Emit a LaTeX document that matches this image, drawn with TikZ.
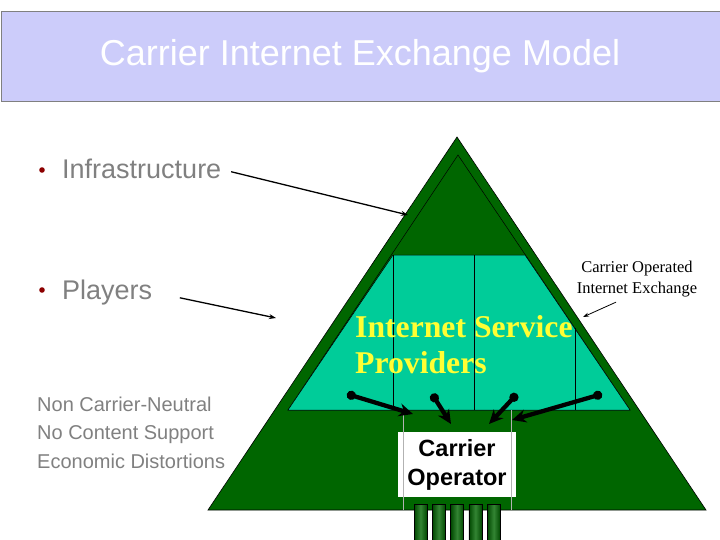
\documentclass[tikz,border=0pt]{standalone}
\usepackage{fontspec}
\setmainfont{Liberation Serif}
\setsansfont{Liberation Sans}
\usepackage{tikz}
\usetikzlibrary{positioning, arrows.meta}

\definecolor{basegreen}{RGB}{0,102,0}
\definecolor{ispgreen}{RGB}{0,204,153}
\definecolor{titleblue}{RGB}{204,204,250}
\definecolor{ispyellow}{RGB}{255,255,51}
\definecolor{bulletred}{RGB}{140,0,0}
\definecolor{textgrey}{RGB}{128,128,128}

\begin{document}
\begin{tikzpicture}[x=1pt, y=-1pt,
    pointer/.style = {-{Stealth[length=7pt, width=5pt]}, line width=1.3pt},
    thinpointer/.style = {-{Stealth[length=6pt, width=4pt]}, line width=0.8pt},
    isparrow/.style = {{Circle[length=9pt]}-{Stealth[length=14pt, width=13pt]}, line width=4.3pt},
    bullet/.style = {font=\sffamily\fontsize{27}{30}\selectfont, text=textgrey, anchor=base west, inner sep=0pt},
    issue/.style = {font=\sffamily\fontsize{20}{24}\selectfont, text=textgrey, anchor=base west, inner sep=0pt},
    ispname/.style = {anchor=base west, inner sep=0pt, text=ispyellow, font=\bfseries\fontsize{31.7}{36}\selectfont},
    port/.style = {draw=black, line width=0.6pt, left color=basegreen!70!black, right color=basegreen!70!black, middle color=basegreen!80!white}
  ]
  \useasboundingbox (0,0) rectangle (720,540);

  % title bar
  \draw[fill=titleblue, draw=gray] (1,11) rectangle (730,101);
  \node (title) at (360,56) [text=white, font=\sffamily\fontsize{36}{40}\selectfont] {Carrier Internet Exchange Model};

  % pyramid
  \draw[fill=basegreen, line width=0.6pt] (457,137) -- (706,510) -- (208,510) -- cycle;
  \draw[fill=basegreen, line width=0.5pt] (458,155) -- (630,410) -- (288,410) -- cycle;
  \draw[fill=ispgreen, line width=0.5pt] (393,255) -- (525,255) -- (630,410) -- (288,410) -- cycle;
  \draw[line width=0.5pt] (393,255) -- (393,410);
  \draw[line width=0.5pt] (474,255) -- (474,410);
  \draw[line width=0.5pt] (575,328) -- (575,410);

  % ports
  \foreach \i in {0,...,4}
    \draw[port] (414+\i*18.3,504) rectangle (427+\i*18.3,541);

  \node (carrier) at (457,464.5) [fill=white, minimum width=118pt, minimum height=65pt, align=center,
        font=\sffamily\bfseries\fontsize{23.5}{29}\selectfont, inner sep=0pt] {Carrier\\Operator};
  \draw[gray!60, line width=0.5pt] (403,410) -- (403,510);
  \draw[gray!60, line width=0.5pt] (511,410) -- (511,510);

  \node[ispname] (isp) at (355,337) {Internet Service};
  \node[ispname] (isp2) [below=36pt of isp.base west, anchor=base west] {Providers};

  % isp arrows
  \coordinate (t1) at (347,394);
  \coordinate (t2) at (432,394);
  \coordinate (t3) at (517,394);
  \coordinate (t4) at (602,394);
  \coordinate (h1) at (413,414);
  \coordinate (h2) at (451,424);
  \coordinate (h3) at (489,424);
  \coordinate (h4) at (512,420);
  \draw[isparrow] (t1) -- (h1);
  \draw[isparrow] (t2) -- (h2);
  \draw[isparrow] (t3) -- (h3);
  \draw[isparrow] (t4) -- (h4);

  % left side
  \fill[bulletred] (42,170) circle (2.8pt);
  \fill[bulletred] (42,290) circle (2.8pt);
  \node[bullet] (infra) at (62,179) {Infrastructure};
  \node[bullet] (players) at (62,299) {Players};
  \coordinate (infratip) at (408,215);
  \coordinate (playerstip) at (276,318);
  \draw[pointer, shorten <=10pt] (infra.east) -- (infratip);
  \draw[pointer, shorten <=28pt] (players.east) -- (playerstip);

  \node[issue] (nonneutral) at (37,411) {Non Carrier-Neutral};
  \node[issue] (nocontent) [below=28.5pt of nonneutral.base west, anchor=base west] {No Content Support};
  \node[issue] (distort) [below=28.5pt of nocontent.base west, anchor=base west] {Economic Distortions};

  % exchange label
  \node (exchange) at (637,279) [align=center, inner sep=0pt, font=\fontsize{16.5}{21}\selectfont] {Carrier Operated\\Internet Exchange};
  \coordinate (exchangetip) at (583,317);
  \draw[thinpointer, shorten <=12pt] (exchange.south -| 627,0) -- (exchangetip);

\end{tikzpicture}
\end{document}
